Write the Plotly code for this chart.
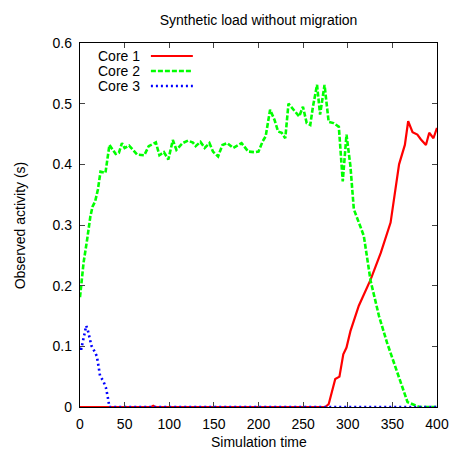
import plotly.graph_objects as go

# ---- data ----
core1_x = [0, 80, 82, 84, 275, 278.7, 286, 290.7, 295, 298.6, 303, 312.4, 325.6, 337, 348, 357.5, 364, 367.7, 372.6, 378, 382, 387.6, 391.3, 396, 400]
core1_y = [0, 0, 0.002, 0, 0, 0.005, 0.046, 0.05, 0.087, 0.098, 0.125, 0.167, 0.21, 0.254, 0.304, 0.4, 0.432, 0.471, 0.453, 0.449, 0.441, 0.432, 0.452, 0.443, 0.46]

core2_x = [0, 4, 8, 11.6, 14, 17, 20, 23, 28.5, 33, 40, 43.6, 47, 50, 55, 64, 72, 77, 85, 89, 94, 99, 104,
           108, 115, 121, 126.5, 129.6, 135, 139.7, 145, 149, 154.7, 159.6, 165, 171.6, 181, 188.5, 196, 200,
           204.7, 208, 213, 218, 222, 226, 230, 233.6, 241, 245.6, 249.8, 254, 258, 261, 265.6, 269, 274,
           278.6, 284, 290, 294.4, 298.6, 303, 306.8, 314, 318, 325.6, 335, 344, 352, 359.4, 367, 380, 400]
core2_y = [0.181, 0.238, 0.276, 0.314, 0.33, 0.339, 0.358, 0.388, 0.386, 0.432, 0.417, 0.419, 0.435, 0.427, 0.431, 0.416, 0.415, 0.43, 0.436, 0.415, 0.42, 0.408, 0.44,
           0.424, 0.435, 0.439, 0.436, 0.43, 0.437, 0.427, 0.435, 0.421, 0.413, 0.432, 0.435, 0.427, 0.435, 0.421, 0.42, 0.421,
           0.438, 0.446, 0.49, 0.473, 0.454, 0.452, 0.443, 0.5, 0.487, 0.479, 0.495, 0.468, 0.465, 0.495, 0.531, 0.482, 0.531,
           0.47, 0.468, 0.462, 0.372, 0.449, 0.397, 0.326, 0.298, 0.282, 0.208, 0.15, 0.106, 0.073, 0.043, 0.008, 0, 0]

core3_x = [0, 1.5, 2.6, 3.7, 5.6, 7, 9, 10.5, 12.8, 15.8, 18.8, 20.7, 22.5, 26, 29, 30.8, 32, 33, 400]
core3_y = [0.096, 0.096, 0.104, 0.113, 0.129, 0.134, 0.125, 0.116, 0.101, 0.093, 0.084, 0.068, 0.051, 0.043, 0.032, 0.019, 0.01, 0, 0]

series_names = ["Core 1", "Core 2", "Core 3"]
x_ticks = [0, 50, 100, 150, 200, 250, 300, 350, 400]
y_ticks = [0, 0.1, 0.2, 0.3, 0.4, 0.5, 0.6]
y_tick_text = ["0", "0.1", "0.2", "0.3", "0.4", "0.5", "0.6"]

colors = ["#ff0000", "#00ff00", "#0000ff"]
dashes = ["solid", "5px,2px", "2px,3px"]
widths = [2.2, 2.6, 2.6]

FONT = "Liberation Sans, Arial, Helvetica, sans-serif"
FS = 14

fig = go.Figure()
for xs, ys, name, c, d, w in zip([core1_x, core2_x, core3_x], [core1_y, core2_y, core3_y],
                                 series_names, colors, dashes, widths):
    fig.add_trace(go.Scatter(x=xs, y=ys, mode="lines", name=name,
                             line=dict(color=c, dash=d, width=w), showlegend=False))

axis_common = dict(showline=True, linecolor="black", linewidth=1.3, mirror="ticks",
                   ticks="inside", ticklen=5, tickcolor="#444", tickwidth=1,
                   showgrid=False, zeroline=False, automargin=False,
                   tickfont=dict(family=FONT, size=FS, color="black"))

W, H = 453, 451
L, T = 80, 43
PR, PB = 437.5, 407.5
R, B = W - PR, H - PB
pw, ph = PR - L, PB - T

fig.update_xaxes(range=[0, 400], tickvals=x_ticks, ticktext=[str(v) for v in x_ticks],
                 ticklabelstandoff=4, **axis_common)
fig.update_yaxes(range=[0, 0.6], tickvals=y_ticks, ticktext=y_tick_text, ticklabelstandoff=4, **axis_common)


def px_x(p):
    return (p - L) / pw


def px_y(p):
    return 1 - (p - T) / ph


# axis titles
fig.add_annotation(xref="paper", yref="paper", x=px_x(258.75), y=px_y(442.5), text="Simulation time",
                   showarrow=False, xanchor="center", yanchor="middle",
                   font=dict(family=FONT, size=FS, color="black"))
fig.add_annotation(xref="paper", yref="paper", x=px_x(20), y=px_y(225.5), text="Observed activity (s)",
                   showarrow=False, xanchor="center", yanchor="middle", textangle=-90,
                   font=dict(family=FONT, size=FS, color="black"))

# gnuplot-style legend: text right-aligned, sample line to the right
for i, (name, c, d, w) in enumerate(zip(series_names, colors, dashes, widths)):
    ypx = 56 + 15 * i
    fig.add_annotation(xref="paper", yref="paper", x=px_x(142), y=px_y(ypx), text=name,
                       showarrow=False, xanchor="right", yanchor="middle",
                       font=dict(family=FONT, size=FS, color="black"))
    fig.add_shape(type="line", xref="paper", yref="paper",
                  x0=px_x(151), x1=px_x(193), y0=px_y(ypx), y1=px_y(ypx),
                  line=dict(color=c, dash=d, width=w))

fig.update_layout(
    width=W, height=H,
    margin=dict(l=L, r=R, t=T, b=B, pad=0),
    paper_bgcolor="white", plot_bgcolor="white",
    title=dict(text="Synthetic load without migration", x=px_x(258.75), xref="paper", xanchor="center",
               y=1 - 20 / H, yanchor="middle", automargin=False,
               font=dict(family=FONT, size=FS, color="black")),
    font=dict(family=FONT, size=FS, color="black"),
)

fig.write_html("out.html", config={"displayModeBar": False},
               post_script="document.body.style.margin='0';document.body.style.overflow='hidden';")
